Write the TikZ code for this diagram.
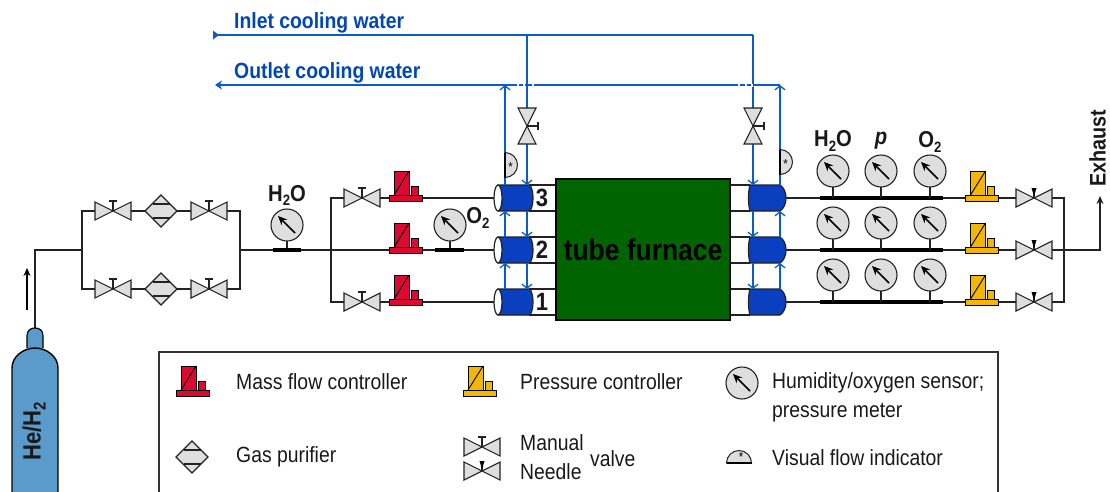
\documentclass[tikz,border=0pt]{standalone}
\usepackage{fontspec}
\setmainfont[FakeStretch=0.88]{Liberation Sans}
\usetikzlibrary{arrows.meta}
\definecolor{wat}{HTML}{0A5CC8}
\definecolor{wtx}{HTML}{0047B5}
\definecolor{tubeb}{HTML}{0A3FC0}
\definecolor{grn}{HTML}{006400}
\definecolor{symg}{HTML}{DEDEDE}
\definecolor{mfcc}{HTML}{DC0A32}
\definecolor{pcc}{HTML}{F2B705}
\definecolor{cyl}{HTML}{5A9BCB}
\definecolor{lnk}{HTML}{222222}
\newcommand{\stwo}[1][15]{\raisebox{-0.2em}{\fontsize{#1}{#1}\selectfont 2}}
\tikzset{
  x=1pt,y=-1pt,
  pipe/.style={draw=lnk,line width=1.2pt},
  water/.style={draw=wat,line width=1.3pt},
  wtip/.style={water,-{Straight Barb[length=4pt,width=10pt,line width=1.3pt]}},
  spot/.style={inner sep=0pt,outer sep=0pt,minimum width=#1,minimum height=18pt},
  spot/.default=36pt,
  lab/.style={font=\fontsize{22}{24}\selectfont,anchor=west,inner sep=0pt,text=black!90},
  tag/.style={font=\fontsize{23}{25}\selectfont\bfseries,inner sep=0pt,text=black!90},
  wlab/.style={font=\fontsize{22}{24}\selectfont\bfseries,anchor=west,inner sep=0pt,text=wtx},
  tri/.style={draw=lnk,line width=1.1pt,fill=symg,line join=miter},
  valve/.pic={
    \path[tri] (-18,-9)--(18,9)--(18,-9)--(-18,9)--cycle;
    \draw[line width=1.1pt,draw=lnk] (0,0)--(0,-10) (-4,-10)--(4,-10);
  },
  nvalve/.pic={
    \path[tri] (-18,-9)--(18,9)--(18,-9)--(-18,9)--cycle;
    \draw[line width=1.1pt,draw=lnk] (0,0)--(0,-5);
    \fill[black] (-2.5,-10)--(2.5,-10)--(0,-2)--cycle;
  },
  vvalve/.pic={
    \path[tri] (-9,-18)--(9,18)--(-9,18)--(9,-18)--cycle;
    \draw[line width=1.1pt,draw=lnk] (0,0)--(11,0) (11,-4)--(11,4);
  },
  purif/.pic={
    \path[tri] (-16,0)--(0,-16)--(16,0)--(0,16)--cycle;
    \draw[line width=1.1pt,draw=lnk] (-8.5,-7)--(8.5,-7) (-8.5,7)--(8.5,7);
  },
  gauge/.pic={
    \path[draw=lnk,line width=1.1pt,fill=symg] (0,0) circle[radius=16];
    \draw[line width=1.5pt,black,-{Stealth[length=9pt,width=8pt]}] (8,8)--(-9,-9);
  },
  ctl/.pic={
    \path[draw=black,line width=.8pt,fill=#1] (-11.5,-27) rectangle (3.5,-3);
    \draw[black,line width=.9pt] (-11.5,-3)--(3.5,-27);
    \path[draw=black,line width=.8pt,fill=#1] (5.5,-12) rectangle (12.5,-3);
    \path[draw=black,line width=.8pt,fill=#1] (-16.5,-3) rectangle (16.5,3);
  },
  flowr/.pic={
    \path[draw=lnk,line width=1pt,fill=symg] (0,-12.5) arc[start angle=-90,end angle=90,radius=12.5]--cycle;
    \draw[black,line width=1.6pt] (0,-12.5)--(0,12.5);
    \node[inner sep=0pt,font=\fontsize{13}{13}\selectfont] at (5.5,2) {*};
  },
  tubeL/.pic={
    \fill[white] (14,-13) rectangle (41,13);
    \draw[lnk,line width=1.2pt] (14,-13)--(41,-13) (14,13)--(41,13);
    \path[fill=tubeb,draw=lnk,line width=1.2pt] (-17,-13)--(15,-13) .. controls (19,-7) and (19,7) .. (15,13)--(-17,13)--cycle;
    \path[fill=white,draw=lnk,line width=1.2pt] (-17,0) ellipse[x radius=4,y radius=13];
  },
  tubeR/.pic={
    \fill[white] (-36,-13) rectangle (-17,13);
    \draw[lnk,line width=1.2pt] (-36,-13)--(-17,-13) (-36,13)--(-17,13);
    \path[fill=tubeb,draw=lnk,line width=1.2pt] (-17,-13) .. controls (-19,-7) and (-19,7) .. (-17,13)--(13,13) .. controls (21,8) and (21,-8) .. (13,-13)--cycle;
  }
}
\begin{document}
\begin{tikzpicture}
\useasboundingbox (0,0) rectangle (1110,491);
\clip (0,0) rectangle (1110,491);
% ---- named places
\node[spot] (vA) at (113,211) {};
\node[spot] (vB) at (209,211) {};
\node[spot] (vC) at (113,289) {};
\node[spot] (vD) at (209,289) {};
\node[spot=32pt] (pA) at (161,211) {};
\node[spot=32pt] (pB) at (161,289) {};
\node[spot] (vE) at (362,198) {};
\node[spot] (vF) at (362,302) {};
\node[spot=33pt] (mA) at (405.5,198) {};
\node[spot=33pt] (mB) at (405.5,250) {};
\node[spot=33pt] (mC) at (405.5,302) {};
\node[spot=33pt] (cA) at (982,198) {};
\node[spot=33pt] (cB) at (982,250) {};
\node[spot=33pt] (cC) at (982,302) {};
\node[spot] (nA) at (1034,198) {};
\node[spot] (nB) at (1034,250) {};
\node[spot] (nC) at (1034,302) {};
\node[spot=37pt,minimum height=26pt] (tL3) at (515,198) {};
\node[spot=37pt,minimum height=26pt] (tL2) at (515,250) {};
\node[spot=37pt,minimum height=26pt] (tL1) at (515,302) {};
\node[spot=36pt,minimum height=26pt] (tR3) at (767,198) {};
\node[spot=36pt,minimum height=26pt] (tR2) at (767,250) {};
\node[spot=36pt,minimum height=26pt] (tR1) at (767,302) {};
\coordinate (in0) at (215,35);
\coordinate (inA) at (527,35);
\coordinate (inB) at (753,35);
\coordinate (out0) at (215,85);
\coordinate (outA) at (505,85);
\coordinate (outB) at (780,85);
\node[inner sep=0pt,minimum width=18pt,minimum height=36pt] (wA) at (527,126) {};
\node[inner sep=0pt,minimum width=18pt,minimum height=36pt] (wB) at (753,126) {};
\coordinate (tee0) at (35,330);
\coordinate (tee1) at (35,250);
\coordinate (bL) at (82,250);
\coordinate (bR) at (240,250);
\coordinate (gL) at (331,250);
\coordinate (gR) at (1064,250);
\coordinate (ex) at (1100,196);
\coordinate (flowA) at (505,165);
\coordinate (flowB) at (780,162);
% ---- gas pipes
\draw[pipe] (tee0)--(tee1)--(bL);
\draw[pipe] (vA.center)--(bL |- vA)--(bL |- vC)--(vC.center);
\draw[pipe] (vB.center)--(bR |- vB)--(bR |- vD)--(vD.center);
\draw[pipe] (vA)--(pA) (pA)--(vB) (vC)--(pB) (pB)--(vD);
\draw[pipe] (bR)--(tL2.center);
\draw[pipe] (vE.center)--(gL |- vE)--(gL |- vF)--(vF.center);
\draw[pipe] (vE)--(tL3.center) (vF)--(tL1.center);
\draw[pipe] (tR3.center)--(nA.center) (tR2.center)--(nB.center) (tR1.center)--(nC.center);
\draw[pipe] (nA.center)--(gR |- nA)--(gR |- nC)--(nC.center);
\draw[pipe,-{Stealth[length=8pt,width=7pt]}] (nB.center)--(ex |- nB)--(ex);
\draw[draw=black,line width=1.6pt,-{Stealth[length=8pt,width=7pt]}] (27,310)--(27,268);
% ---- tubes and furnace
\foreach \n in {3,2,1}{ \pic at (tL\n) {tubeL}; \pic at (tR\n) {tubeR}; }
\node[draw=black,line width=1.8pt,fill=grn,minimum width=174pt,minimum height=141pt,inner sep=0pt,
  font=\fontsize{30}{31}\selectfont\bfseries,text=black] (fur) at (643,249.5) {tube furnace};
\node[tag,font=\fontsize{25}{26}\selectfont\bfseries] (n3) at (542,198) {3};
\node[tag,font=\fontsize{25}{26}\selectfont\bfseries] (n2) at (542,250) {2};
\node[tag,font=\fontsize{25}{26}\selectfont\bfseries] (n1) at (542,302) {1};
% ---- water
\draw[water] (in0)--(inB);
\fill[wat] (219,35)--(213,30.5)--(213,39.5)--cycle;
\draw[water,-{Stealth[length=7pt,width=9pt]}] (outB)--(out0);
\draw[water] (inA)--(wA.north);
\draw[water] (inB)--(wB.north);
\draw[wtip] (wA.south)--(wA |- tL3.north);
\draw[wtip] (wB.south)--(wB |- tR3.north);
\draw[wtip] (wA |- tL3.south)--(wA |- tL2.north);
\draw[wtip] (wA |- tL2.south)--(wA |- tL1.north);
\draw[wtip] (wB |- tR3.south)--(wB |- tR2.north);
\draw[wtip] (wB |- tR2.south)--(wB |- tR1.north);
\draw[wtip] (outA |- tL3.north)--(outA);
\draw[wtip] (outB |- tR3.north)--(outB);
\draw[wtip] (outA |- tL2.north)--(outA |- tL3.south);
\draw[wtip] (outA |- tL1.north)--(outA |- tL2.south);
\draw[wtip] (outB |- tR2.north)--(outB |- tR3.south);
\draw[wtip] (outB |- tR1.north)--(outB |- tR2.south);
\foreach \gx in {517,523,532,738,745,751}{\fill[white] (\gx,83.5) rectangle (\gx+2,86.5);}
% ---- symbols on the lines
\pic at (vA) {valve}; \pic at (vB) {valve}; \pic at (vC) {valve}; \pic at (vD) {valve};
\pic at (pA) {purif}; \pic at (pB) {purif};
\pic at (vE) {valve}; \pic at (vF) {valve};
\pic at (nA) {nvalve}; \pic at (nB) {nvalve}; \pic at (nC) {nvalve};
\pic at (wA) {vvalve}; \pic at (wB) {vvalve};
\foreach \m in {mA,mB,mC}{\pic at (\m) {ctl=mfcc};}
\foreach \m in {cA,cB,cC}{\pic at (\m) {ctl=pcc};}
\pic at (flowA) {flowr}; \pic at (flowB) {flowr};
% ---- gauges on bars
\foreach \gx/\gy/\by/\xa/\xb in {287/225/250/273/301, 450/225/250/435/464}{
  \draw[pipe] (\gx,\gy)--(\gx,\by);
  \draw[black,line width=4pt] (\xa,\by)--(\xb,\by);
  \pic at (\gx,\gy) {gauge};
}
\foreach \by/\gy in {198/171,250/223,302/275}{
  \draw[black,line width=4pt] (820,\by)--(943,\by);
  \foreach \gx in {833,881,930}{
    \draw[pipe] (\gx,\gy)--(\gx,\by);
    \pic at (\gx,\gy) {gauge};
  }
}
% ---- labels
\node[tag] (h1) at (287,195.5) {H\stwo O};
\node[tag] (o1) at (478,218) {O\stwo};
\node[tag] (h2) at (833,141) {H\stwo O};
\node[tag] (pp) at (881,141) {\itshape p};
\node[tag] (o2) at (930,142) {O\stwo};
\node[tag,rotate=90,font=\fontsize{22.5}{24}\selectfont\bfseries] (exh) at (1097.5,148) {Exhaust};
\node[wlab] (il) at (234,23) {Inlet cooling water};
\node[wlab] (ol) at (234,72.5) {Outlet cooling water};
% ---- cylinder
\path[fill=cyl,draw=black,line width=1.2pt] (27,348)--(27,336) .. controls (27,330) and (31,328) .. (35,328) .. controls (39,328) and (43,330) .. (43,336)--(43,348);
\path[fill=cyl,draw=black,line width=1.4pt] (12,500)--(12,368) .. controls (12,356) and (24,348) .. (35,348) .. controls (46,348) and (58,356) .. (58,368)--(58,500);
\node[tag,rotate=90,font=\fontsize{25}{26}\selectfont\bfseries] (he) at (34,431) {He/H\stwo[17]};
% ---- legend
\draw[draw=black!80,line width=1.3pt] (159,495)--(159,352)--(998,352)--(998,495);
\pic at (192.5,393) {ctl=mfcc};
\pic at (479.5,393) {ctl=pcc};
\pic at (192,457) {purif};
\pic at (482,447) {valve};
\pic at (482,471) {nvalve};
\pic at (742,383) {gauge};
\pic[rotate=90] at (739,463) {flowr};
\node[lab] (t1) at (236,382) {Mass flow controller};
\node[lab] (t2) at (520,382) {Pressure controller};
\node[lab] (t3) at (772,383) {Humidity/oxygen sensor;};
\node[lab] (t4) at (772,413) {pressure meter};
\node[lab] (t5) at (236,457) {Gas purifier};
\node[lab] (t6) at (520,443) {Manual};
\node[lab] (t7) at (520,472) {Needle};
\node[lab] (t8) at (590,459) {valve};
\node[lab] (t9) at (772,458) {Visual flow indicator};
\end{tikzpicture}
\end{document}
